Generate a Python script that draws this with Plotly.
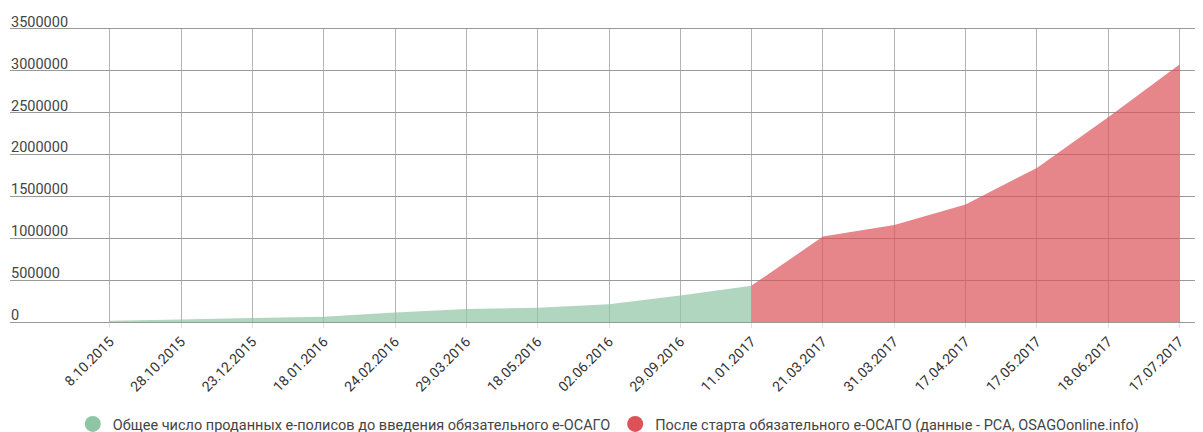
import plotly.graph_objects as go

categories = ["8.10.2015", "28.10.2015", "23.12.2015", "18.01.2016", "24.02.2016",
              "29.03.2016", "18.05.2016", "02.06.2016", "29.09.2016", "11.01.2017",
              "21.03.2017", "31.03.2017", "17.04.2017", "17.05.2017", "18.06.2017",
              "17.07.2017"]

before_cats = categories[0:10]
before_vals = [15000, 30000, 48000, 64000, 112000, 156000, 170000, 212000, 316000, 432000]

after_cats = categories[9:16]
after_vals = [435000, 1020000, 1160000, 1405000, 1840000, 2445000, 3075000]

name_before = "Общее число проданных е-полисов до введения обязательного е-ОСАГО"
name_after = "После старта обязательного е-ОСАГО (данные - РСА, OSAGOonline.info)"

green = "rgb(142,197,165)"
red = "rgb(221,82,88)"

fig = go.Figure()
fig.add_trace(go.Scatter(x=before_cats, y=before_vals, mode="none", fill="tozeroy",
                         fillcolor="rgba(142,197,165,0.7)", showlegend=False,
                         hoverinfo="x+y"))
fig.add_trace(go.Scatter(x=after_cats, y=after_vals, mode="none", fill="tozeroy",
                         fillcolor="rgba(221,82,88,0.7)", showlegend=False,
                         hoverinfo="x+y"))
fig.add_trace(go.Scatter(x=[None], y=[None], mode="markers", name=name_before,
                         marker=dict(color=green, size=16, symbol="circle")))
fig.add_trace(go.Scatter(x=[None], y=[None], mode="markers", name=name_after,
                         marker=dict(color=red, size=16, symbol="circle")))

fig.update_layout(
    width=1203, height=432,
    margin=dict(l=2, r=8, t=21, b=118, autoexpand=False),
    paper_bgcolor="white", plot_bgcolor="white",
    font=dict(family="Roboto", size=13, color="#444"),
    legend=dict(orientation="h", x=0.5015, xanchor="center", yref="container",
                y=0.0, yanchor="bottom", font=dict(size=14.5, color="#444"),
                itemclick=False),
    xaxis=dict(type="category", categoryorder="array", categoryarray=categories,
               range=[-1.40, 15.33], showgrid=True, gridcolor="#b4b4b4", gridwidth=1,
               tickangle=-45, tickfont=dict(size=14, color="#333"),
               ticks="outside", ticklen=5, tickcolor="#e0e0e0",
               showline=True, mirror=True, linecolor="#999999", linewidth=1,
               zeroline=False, automargin=False),
    yaxis=dict(range=[0, 3500000], dtick=500000, tickformat="d",
               showgrid=True, gridcolor="#999999", gridwidth=1,
               ticklabelposition="inside top", ticklabeloverflow="allow",
               ticklabelstandoff=-2, ticklabelshift=3,
               tickfont=dict(size=14.5, color="#444"),
               zeroline=False, showline=False, automargin=False),
)

fig.write_html("out.html")
